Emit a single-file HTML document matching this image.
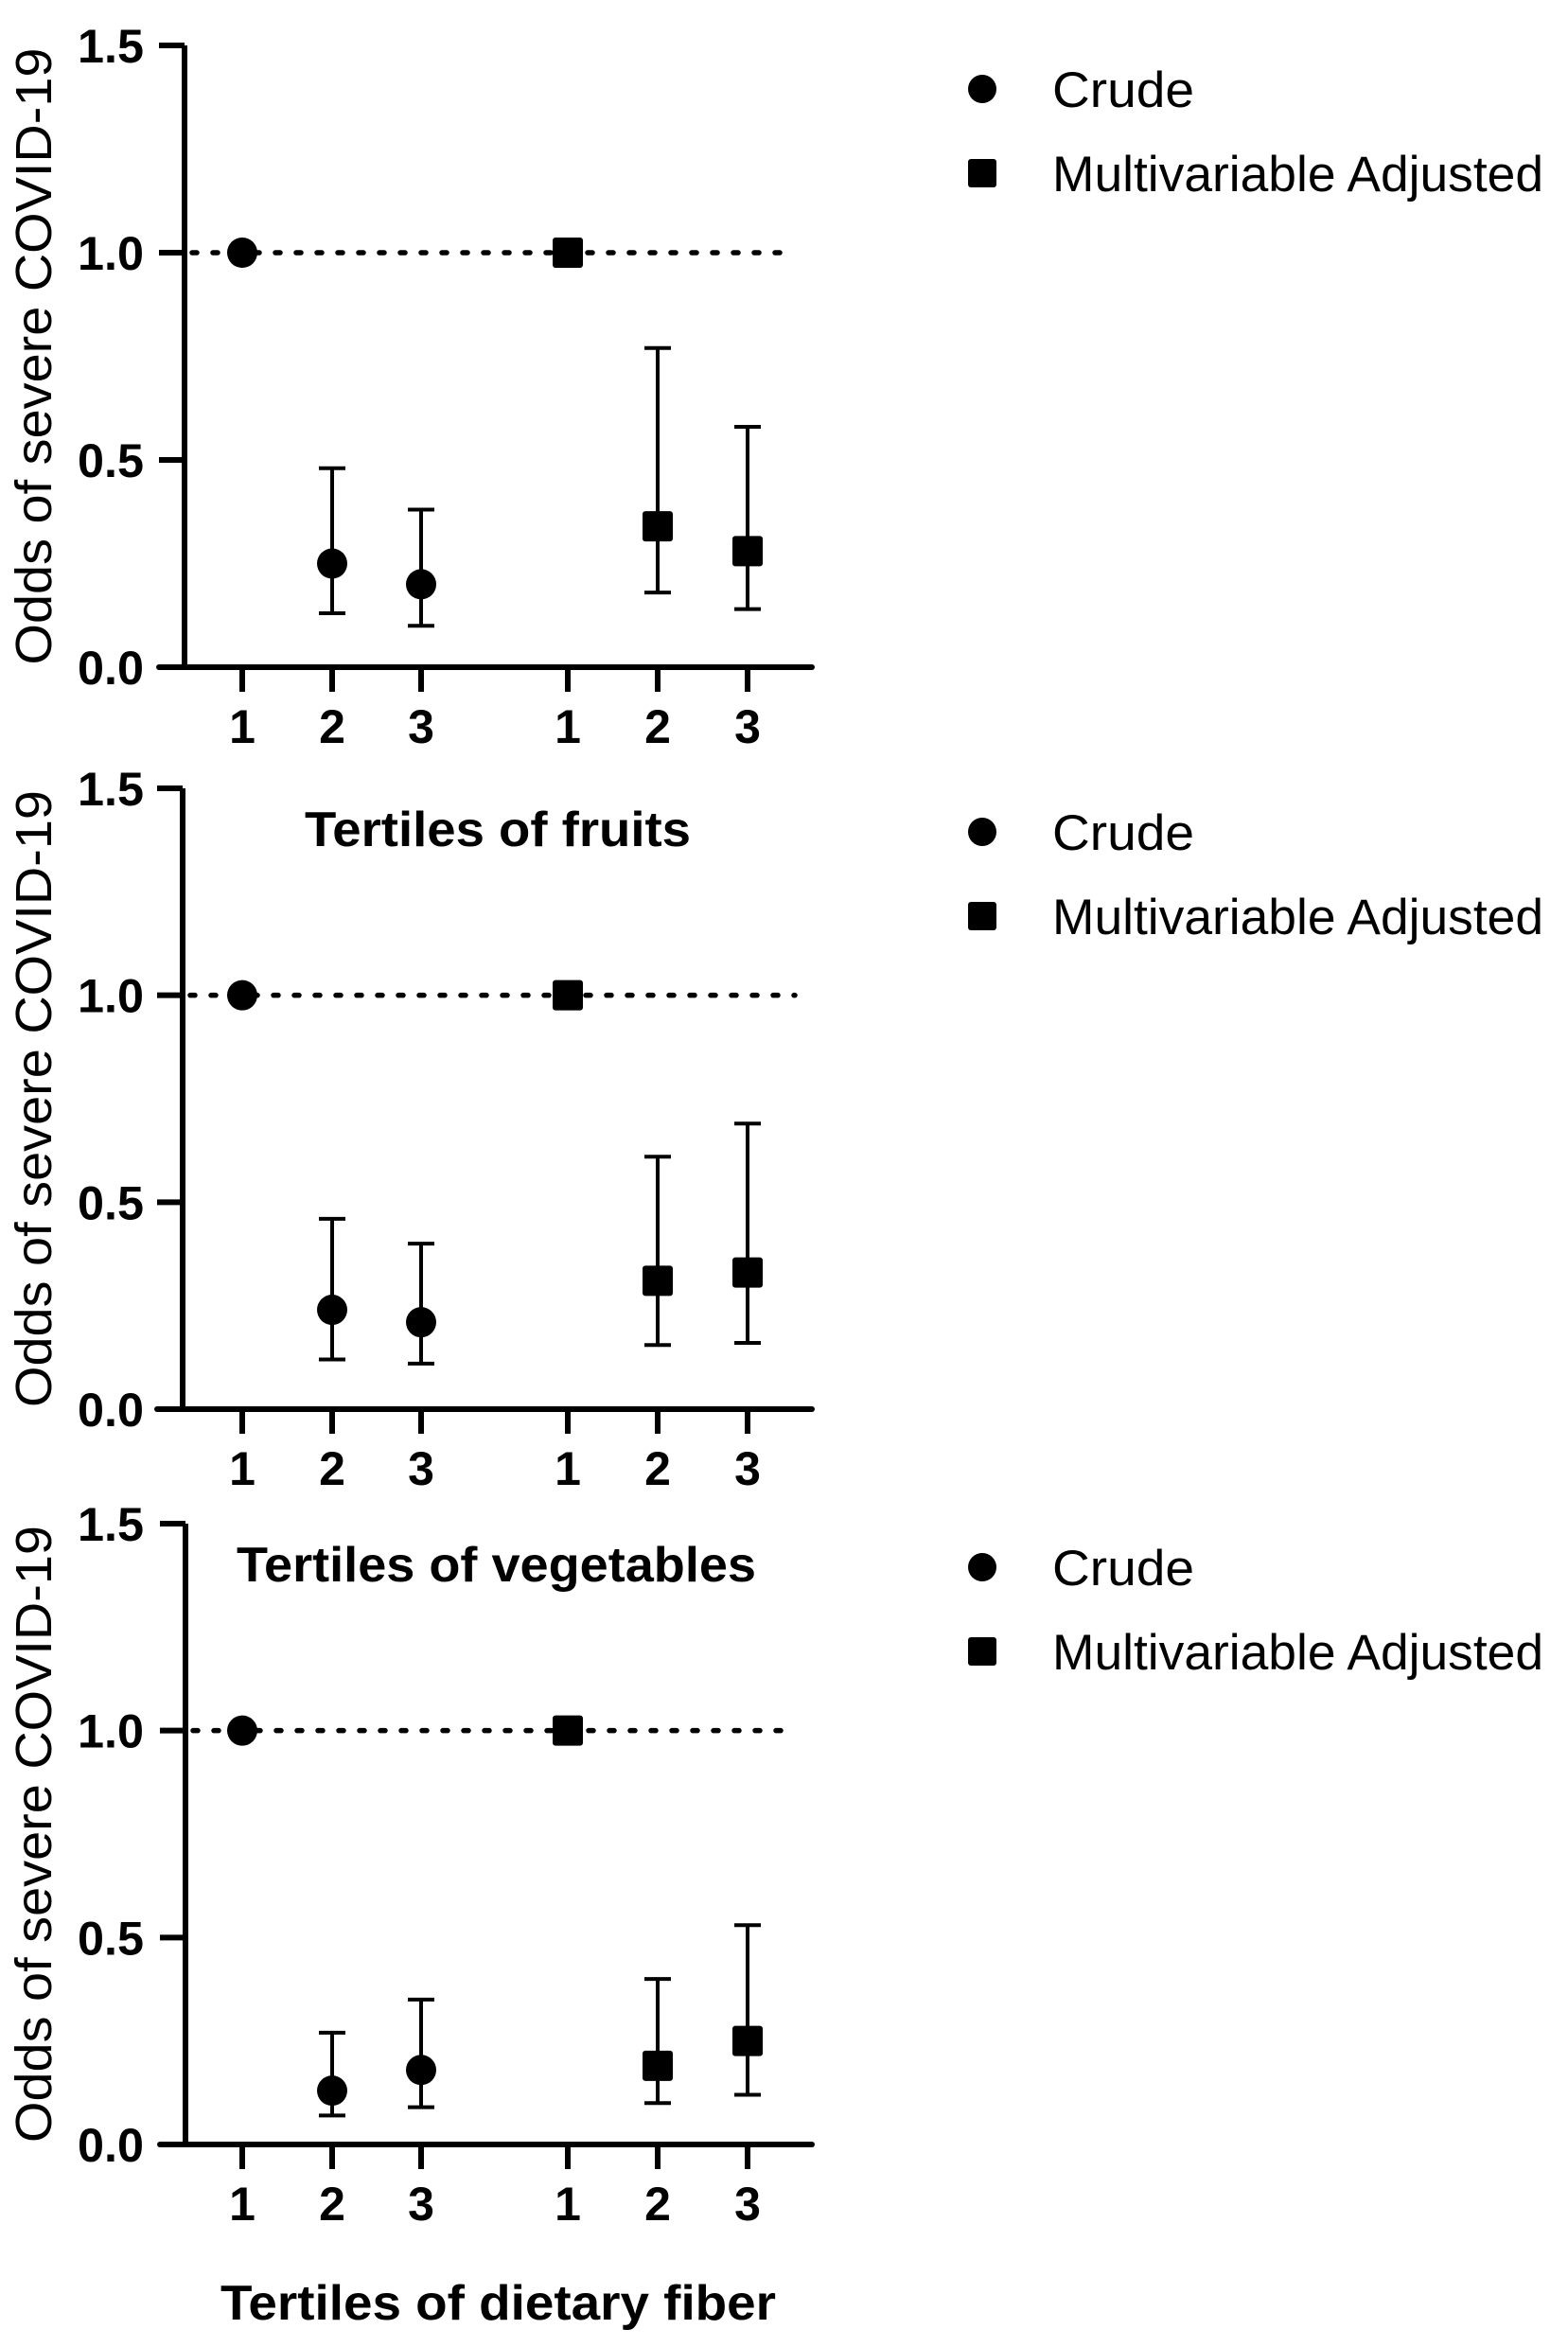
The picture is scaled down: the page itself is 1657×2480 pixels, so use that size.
<!DOCTYPE html>
<html><head><meta charset="utf-8"><style>
html,body{margin:0;padding:0;background:#fff;}
svg{display:block;}
text{font-family:"Liberation Sans",Arial,sans-serif;fill:#000;}
</style></head><body>
<svg id="chart" width="1657" height="2480" viewBox="0 0 1657 2480" xmlns="http://www.w3.org/2000/svg"></svg>
<script>
// ---- data ----
const categories = ["1","2","3","1","2","3"];
const yTicks = [0, 0.5, 1.0, 1.5];
const yTickLabels = ["0.0","0.5","1.0","1.5"];
const panelTitles = ["", "Tertiles of fruits", "Tertiles of vegetables"];
// panel 1
const crude1 = [1.0, 0.25, 0.20];
const crude1Lo = [1.0, 0.13, 0.10];
const crude1Hi = [1.0, 0.48, 0.38];
const adj1 = [1.0, 0.34, 0.28];
const adj1Lo = [1.0, 0.18, 0.14];
const adj1Hi = [1.0, 0.77, 0.58];
// panel 2
const crude2 = [1.0, 0.24, 0.21];
const crude2Lo = [1.0, 0.12, 0.11];
const crude2Hi = [1.0, 0.46, 0.40];
const adj2 = [1.0, 0.31, 0.33];
const adj2Lo = [1.0, 0.155, 0.16];
const adj2Hi = [1.0, 0.61, 0.69];
// panel 3
const crude3 = [1.0, 0.13, 0.18];
const crude3Lo = [1.0, 0.07, 0.09];
const crude3Hi = [1.0, 0.27, 0.35];
const adj3 = [1.0, 0.19, 0.25];
const adj3Lo = [1.0, 0.10, 0.12];
const adj3Hi = [1.0, 0.40, 0.53];

const NS = "http://www.w3.org/2000/svg";
const svg = document.getElementById("chart");
function el(tag, attrs, parent, txt){
  const e = document.createElementNS(NS, tag);
  for (const k in attrs) e.setAttribute(k, attrs[k]);
  if (txt !== undefined) e.textContent = txt;
  (parent || svg).appendChild(e);
  return e;
}
const panels = [
  {top:48, zero:705, axisX:195, crude:[crude1,crude1Lo,crude1Hi], adj:[adj1,adj1Lo,adj1Hi]},
  {top:833, zero:1489, axisX:193, crude:[crude2,crude2Lo,crude2Hi], adj:[adj2,adj2Lo,adj2Hi]},
  {top:1610, zero:2266, axisX:196, crude:[crude3,crude3Lo,crude3Hi], adj:[adj3,adj3Lo,adj3Hi]}
];
const xPos = [256, 351, 445, 600, 695, 790];
const titleX = [0, 322, 250];
const titleLen = [0, 408, 549];

panels.forEach((p, pi) => {
  const g = el("g", {});
  
  
  const per = (p.zero - p.top) / 1.5;
  const y = v => p.zero - v * per;
  const xAxisEnd = 858;
  const ya = el("line", {x1:p.axisX, y1:p.top, x2:p.axisX, y2:p.zero+2, stroke:"#000","stroke-width":6}, g);
  
  
  const xa = el("line", {x1:p.axisX-27, y1:p.zero, x2:xAxisEnd, y2:p.zero, stroke:"#000","stroke-width":6,"stroke-linecap":"round"}, g);
  
  
  yTicks.forEach((t, i) => {
    if (t > 0) el("line", {x1:p.axisX-27, y1:y(t), x2:p.axisX, y2:y(t), stroke:"#000","stroke-width":6}, g);
    const tl = el("text", {x:152, y:y(t)+18, "text-anchor":"end", "font-size":50, "font-weight":"bold", textLength:70, lengthAdjust:"spacingAndGlyphs"}, g, yTickLabels[i]);
    
    
  });
  categories.forEach((c, i) => {
    el("line", {x1:xPos[i], y1:p.zero, x2:xPos[i], y2:p.zero+26, stroke:"#000","stroke-width":6}, g);
    const xl = el("text", {x:xPos[i], y:p.zero+80, "text-anchor":"middle", "font-size":50, "font-weight":"bold"}, g, c);
    
    
  });
  const cy = (p.top + p.zero) / 2;
  const yt = el("text", {x:0, y:0, transform:`translate(54,${cy}) rotate(-90)`, "text-anchor":"middle", "font-size":54, textLength:652, lengthAdjust:"spacingAndGlyphs"}, g, "Odds of severe COVID-19");
  
  
  const ref = el("line", {x1:p.axisX+8, y1:y(1), x2:840, y2:y(1), stroke:"#000","stroke-width":5.5,"stroke-dasharray":"5 17","stroke-linecap":"round"}, g);
  
  
  if (panelTitles[pi]) {
    const pt = el("text", {x:titleX[pi], y:p.top+61, "font-size":52, "font-weight":"bold", textLength:titleLen[pi], lengthAdjust:"spacingAndGlyphs"}, g, panelTitles[pi]);
    
    
  }
  [["crude", p.crude, 0], ["adjusted", p.adj, 3]].forEach(([name, s, off]) => {
    s[0].forEach((v, i) => {
      const x = xPos[i + off];
      if (s[2][i] !== s[1][i]) {
        const eb = el("path", {d:`M${x},${y(s[2][i])}V${y(s[1][i])}M${x-14},${y(s[2][i])}H${x+14}M${x-14},${y(s[1][i])}H${x+14}`, stroke:"#000","stroke-width":4, fill:"none"}, g);
        
        
      }
      let m;
      if (name === "crude") m = el("circle", {cx:x, cy:y(v), r:16, fill:"#000"}, g);
      else m = el("rect", {x:x-16, y:y(v)-16, width:32, height:32, rx:3, fill:"#000"}, g);
      
      
    });
  });
  const lg = el("g", {}, g);
  
  
  const ly1 = p.top + 46, ly2 = p.top + 135;
  el("circle", {cx:1038, cy:ly1, r:15, fill:"#000"}, lg);
  const l1 = el("text", {x:1112, y:ly1+19, "font-size":53, textLength:150, lengthAdjust:"spacingAndGlyphs"}, lg, "Crude");
  
  
  el("rect", {x:1023, y:ly2-15, width:30, height:30, rx:3, fill:"#000"}, lg);
  const l2 = el("text", {x:1112, y:ly2+19, "font-size":53, textLength:519, lengthAdjust:"spacingAndGlyphs"}, lg, "Multivariable Adjusted");
  
  
});
const xt = el("text", {x:233, y:2451, "font-size":52, "font-weight":"bold", textLength:587, lengthAdjust:"spacingAndGlyphs"}, svg, "Tertiles of dietary fiber");


</script>
</body></html>
